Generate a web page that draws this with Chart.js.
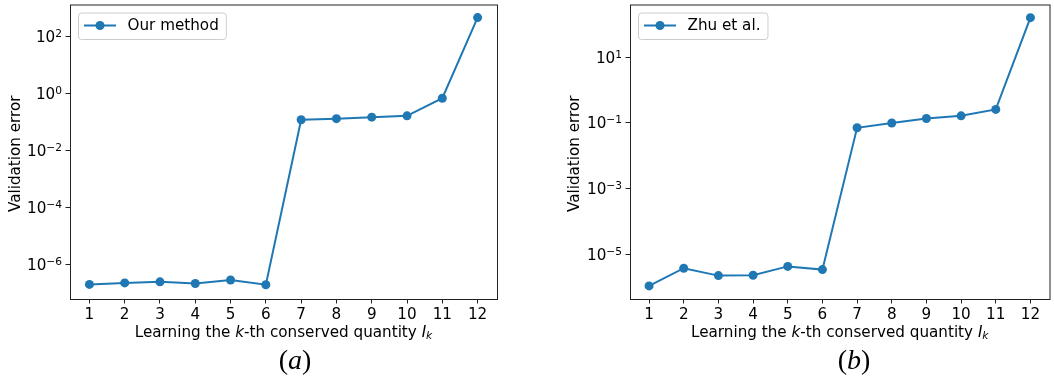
<!DOCTYPE html>
<html>
<head>
<meta charset="utf-8">
<script src="https://cdn.jsdelivr.net/npm/chart.js@4.4.1/dist/chart.umd.min.js"></script>
<style>
  body { margin: 0; background: #fff; width: 1054px; height: 381px; overflow: hidden; position: relative; }
  canvas { position: absolute; top: 0; }
  #chartA { left: 0; }
  #chartB { left: 540px; }
</style>
</head>
<body>
<canvas id="chartA" width="520" height="381"></canvas>
<canvas id="chartB" width="514" height="381"></canvas>
<script>
// k = 1..12
const quantities = [1, 2, 3, 4, 5, 6, 7, 8, 9, 10, 11, 12];
// (a) our method
const ourErr = [1.95e-7, 2.2e-7, 2.4e-7, 2.1e-7, 2.8e-7, 1.9e-7, 0.118, 0.129, 0.146, 0.162, 0.675, 457];
// (b) Zhu et al.
const zhuErr = [1.07e-6, 3.7e-6, 2.2e-6, 2.26e-6, 4.2e-6, 3.35e-6, 0.070, 0.098, 0.134, 0.162, 0.254, 158];

const ourTicks = [1e-6, 1e-4, 1e-2, 1e0, 1e2];
const zhuTicks = [1e-5, 1e-3, 1e-1, 1e1];
const ourRange = [Math.pow(10, -7.19), Math.pow(10, 3.12)];
const zhuRange = [Math.pow(10, -6.37), Math.pow(10, 2.6)];

const BLUE = "#1f77b4";
const FONT = '"DejaVu Sans", sans-serif';
const FS = 15.2;

function expo(v) {
  return String(Math.round(Math.log10(v))).replace("-", "\u2212");
}

function roundBox(ctx, x, y, w, h, r) {
  ctx.beginPath();
  ctx.moveTo(x + r, y);
  ctx.arcTo(x + w, y, x + w, y + h, r);
  ctx.arcTo(x + w, y + h, x, y + h, r);
  ctx.arcTo(x, y + h, x, y, r);
  ctx.arcTo(x, y, x + w, y, r);
  ctx.closePath();
}

// frame, y tick labels, legend, axis titles, caption
const decor = {
  id: "decor",
  afterDraw(chart, args, opts) {
    const { ctx, chartArea: a } = chart;
    ctx.save();

    // full frame
    ctx.strokeStyle = "#222";
    ctx.lineWidth = 1;
    ctx.strokeRect(a.left + 0.5, a.top + 0.5, a.right - a.left, a.bottom - a.top);

    // y tick labels as 10^n, positions from the log scale
    const ys = chart.scales.y;
    ctx.fillStyle = "#000";
    ctx.textBaseline = "alphabetic";
    ctx.textAlign = "left";
    ys.ticks.forEach(t => {
      const py = ys.getPixelForValue(t.value);
      const e = expo(t.value);
      ctx.font = (FS * 0.7) + "px " + FONT;
      const ew = ctx.measureText(e).width;
      ctx.font = FS + "px " + FONT;
      const bw = ctx.measureText("10").width;
      const right = a.left - 8;
      ctx.fillText("10", right - ew - bw, py + 5.5);
      ctx.font = (FS * 0.7) + "px " + FONT;
      ctx.fillText(e, right - ew, py + 0.5);
    });

    // legend in upper left
    ctx.font = FS + "px " + FONT;
    const tw = ctx.measureText(opts.legend).width;
    const bx = a.left + 8, by = a.top + 8;
    roundBox(ctx, bx + 0.5, by + 0.5, 49.5 + tw + 7, 26.5, 3);
    ctx.fillStyle = "rgba(255,255,255,0.8)";
    ctx.fill();
    ctx.strokeStyle = "#cccccc";
    ctx.stroke();
    const ly = a.top + 21;
    ctx.strokeStyle = BLUE;
    ctx.lineWidth = 2;
    ctx.beginPath();
    ctx.moveTo(a.left + 14, ly);
    ctx.lineTo(a.left + 46, ly);
    ctx.stroke();
    ctx.fillStyle = BLUE;
    ctx.beginPath();
    ctx.arc(a.left + 30, ly, 4.5, 0, Math.PI * 2);
    ctx.fill();
    ctx.fillStyle = "#000";
    ctx.textBaseline = "middle";
    ctx.fillText(opts.legend, a.left + 57.5, ly + 0.5);

    // x axis title with italic k and I_k
    const segs = [
      ["Learning the ", FS + "px " + FONT, 0],
      ["k", "italic " + FS + "px " + FONT, 0],
      ["-th conserved quantity ", FS + "px " + FONT, 0],
      ["I", "italic " + FS + "px " + FONT, 0],
      ["k", "italic " + (FS * 0.7) + "px " + FONT, 3]
    ];
    let total = 0;
    segs.forEach(s => { ctx.font = s[1]; total += ctx.measureText(s[0]).width; });
    let x = (a.left + a.right) / 2 - total / 2;
    segs.forEach(s => {
      ctx.font = s[1];
      ctx.fillText(s[0], x, 333 + s[2]);
      x += ctx.measureText(s[0]).width;
    });

    // y axis title
    ctx.save();
    ctx.translate(opts.yTitleX, (a.top + a.bottom) / 2 + 2);
    ctx.rotate(-Math.PI / 2);
    ctx.font = FS + "px " + FONT;
    ctx.textAlign = "center";
    ctx.fillText("Validation error", 0, 0);
    ctx.restore();

    // caption (a) / (b)
    const cap = [["(", '28px "Liberation Serif", serif'],
                 [opts.caption, 'italic 28px "Liberation Serif", serif'],
                 [")", '28px "Liberation Serif", serif']];
    let cw = 0;
    cap.forEach(s => { ctx.font = s[1]; cw += ctx.measureText(s[0]).width; });
    let cx = opts.captionX - cw / 2;
    cap.forEach(s => {
      ctx.font = s[1];
      ctx.fillText(s[0], cx, 362);
      cx += ctx.measureText(s[0]).width;
    });

    ctx.restore();
  }
};

function makeChart(id, values, ticks, range, yWidth, rightPad, decorOpts) {
  const ctx = document.getElementById(id).getContext("2d");
  return new Chart(ctx, {
    type: "line",
    data: {
      datasets: [
        {
          label: decorOpts.legend,
          data: quantities.map((q, i) => ({ x: q, y: values[i] })),
          borderColor: BLUE,
          backgroundColor: BLUE,
          borderWidth: 2,
          pointRadius: 4.5,
          pointBorderWidth: 0,
          pointBackgroundColor: BLUE,
          tension: 0,
        },
      ],
    },
    options: {
      responsive: false,
      animation: false,
      devicePixelRatio: 1,
      layout: { padding: { left: 0, right: rightPad, top: 2, bottom: 0 } },
      plugins: {
        legend: { display: false },
        tooltip: { enabled: false },
        decor: decorOpts,
      },
      scales: {
        x: {
          type: "linear",
          min: 0.45,
          max: 12.55,
          afterBuildTicks: (scale) => { scale.ticks = quantities.map(v => ({ value: v })); },
          afterFit: (scale) => { scale.height = 82; scale.paddingLeft = 0; scale.paddingRight = 0; },
          border: { display: false },
          grid: { drawOnChartArea: false, drawTicks: true, tickLength: 4.5, color: "#222" },
          ticks: { color: "#000", font: { family: FONT, size: FS }, padding: 2.5, maxRotation: 0,
                   callback: (v) => String(v) },
        },
        y: {
          type: "logarithmic",
          min: range[0],
          max: range[1],
          afterBuildTicks: (scale) => { scale.ticks = ticks.map(v => ({ value: v })); },
          afterFit: (scale) => { scale.width = yWidth; scale.paddingTop = 0; scale.paddingBottom = 0; },
          border: { display: false },
          grid: { drawOnChartArea: false, drawTicks: true, tickLength: 4.5, color: "#222" },
          ticks: { display: false },
        },
      },
    },
    plugins: [decor],
  });
}

makeChart("chartA", ourErr, ourTicks, ourRange, 70, 23,
  { legend: "Our method", yTitleX: 16, captionX: 295, caption: "a" });
makeChart("chartB", zhuErr, zhuTicks, zhuRange, 90, 1,
  { legend: "Zhu et al.", yTitleX: 35, captionX: 314, caption: "b" });
</script>
</body>
</html>
